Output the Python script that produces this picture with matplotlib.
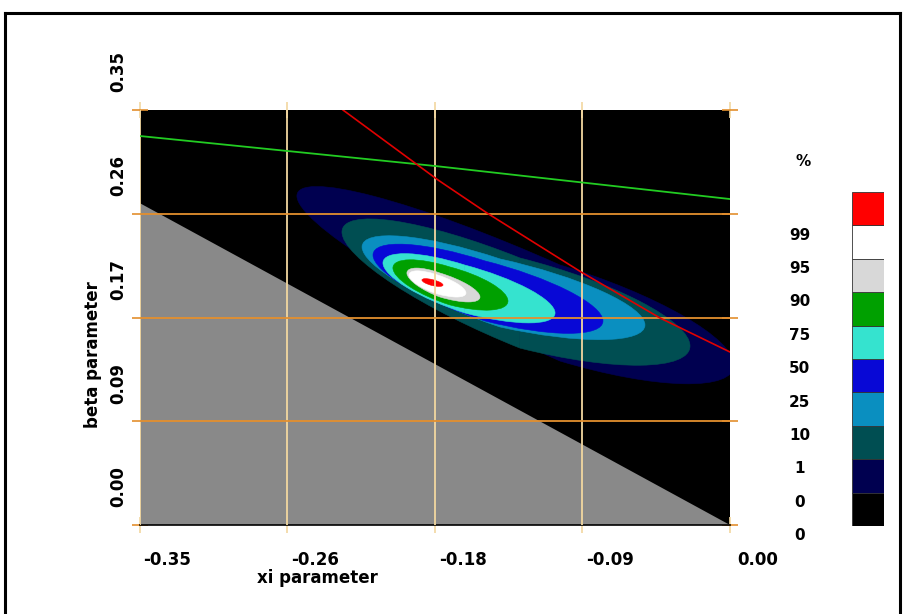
import numpy as np
import matplotlib

matplotlib.use("Agg")
import matplotlib.pyplot as plt
from matplotlib.lines import Line2D
from matplotlib.patches import PathPatch, Polygon
from matplotlib.path import Path
from matplotlib.transforms import Affine2D, ScaledTranslation

# axis ticks (labels are rounded the way the original software prints them)
XI_TICKS = [-0.35, -0.2625, -0.175, -0.0875, 0.0]
XI_LABELS = ["-0.35", "-0.26", "-0.18", "-0.09", "0.00"]
BETA_TICKS = [0.0, 0.0875, 0.175, 0.2625, 0.35]
BETA_LABELS = ["0.00", "0.09", "0.17", "0.26", "0.35"]

# confidence regions, outer -> inner:
# leftmost point, rightmost point, centre of the widest vertical chord and its half height
REGION_LEFT_XI = [-0.2567, -0.2300, -0.2181, -0.2116, -0.2057, -0.1998, -0.1915, -0.1903, -0.1826]
REGION_LEFT_BETA = [0.2775, 0.2471, 0.2345, 0.2277, 0.2210, 0.2168, 0.2125, 0.2109, 0.2066]
REGION_RIGHT_XI = [0.0024, -0.0237, -0.0504, -0.0753, -0.1037, -0.1316, -0.1482, -0.1565, -0.1701]
REGION_RIGHT_BETA = [0.1349, 0.1510, 0.1687, 0.1721, 0.1788, 0.1889, 0.1923, 0.1957, 0.2024]
REGION_MID_XI = [-0.1008, -0.1245, -0.1363, -0.1452, -0.1571, -0.1660, -0.1719, -0.1743, -0.1766]
REGION_MID_BETA = [0.1788, 0.1872, 0.1957, 0.1974, 0.1990, 0.2016, 0.2024, 0.2033, 0.2045]
REGION_HALF_HEIGHT = [0.0405, 0.0380, 0.0287, 0.0253, 0.0202, 0.0160, 0.0101, 0.0080, 0.0025]
REGION_COLORS = ["#000050", "#004e52", "#0a8fc0", "#0808d6", "#35e3cf",
                 "#00a000", "#d8d8d8", "#ffffff", "#ff0000"]

# colour key, bottom -> top; each label sits at the lower edge of its box
KEY_COLORS = ["#000000", "#000050", "#004e52", "#0a8fc0", "#0808d6",
              "#35e3cf", "#00a000", "#d8d8d8", "#ffffff", "#ff0000"]
KEY_LABELS = ["0", "0", "1", "10", "25", "50", "75", "90", "95", "99"]

# region where the model is not defined
INVALID_XI = [-0.35, 0.0, -0.35]
INVALID_BETA = [0.2716, 0.0, 0.0]

# green and red boundary curves
GREEN_XI = [-0.35, -0.175, 0.0]
GREEN_BETA = [0.3281, 0.3028, 0.2749]
RED_XI = [-0.2294, -0.1731, -0.1440, -0.0883, -0.0415, 0.0]
RED_BETA = [0.35, 0.2910, 0.2631, 0.2134, 0.1746, 0.1459]

PALE = "#f2d7a0"
ORANGE = "#e38f2e"
FONT = "DejaVu Sans"


def add_region(ax, left, right, mid, half_h, color):
    # two half ellipses sharing the vertical chord through `mid`
    lx, ly = left
    rx, ry = right
    cx, cy = mid
    halves = [
        (Path.arc(90, 270), [[cx - lx, 0.0, cx], [cy - ly, half_h, cy], [0.0, 0.0, 1.0]]),
        (Path.arc(-90, 90), [[rx - cx, 0.0, cx], [ry - cy, half_h, cy], [0.0, 0.0, 1.0]]),
    ]
    for path, mat in halves:
        tr = Affine2D(np.array(mat)) + ax.transData
        ax.add_patch(PathPatch(path, transform=tr, facecolor=color, edgecolor=color,
                               linewidth=0.4, zorder=1))


def main() -> None:
    W, H = 904, 614
    fig = plt.figure(figsize=(W / 100, H / 100), dpi=100)
    fig.patch.set_facecolor("white")

    ax = fig.add_axes([139.5 / W, 1 - 525 / H, 590.5 / W, 415 / H])
    ax.set_facecolor("black")

    for i, col in enumerate(REGION_COLORS):
        add_region(ax, (REGION_LEFT_XI[i], REGION_LEFT_BETA[i]),
                   (REGION_RIGHT_XI[i], REGION_RIGHT_BETA[i]),
                   (REGION_MID_XI[i], REGION_MID_BETA[i]), REGION_HALF_HEIGHT[i], col)

    ax.add_patch(Polygon(np.column_stack([INVALID_XI, INVALID_BETA]), closed=True,
                         facecolor="#898989", edgecolor="none", zorder=2))

    # grid
    for t in XI_TICKS[:-1]:
        ax.axvline(t, color=PALE, lw=1.3, zorder=3)
    for t in BETA_TICKS[1:-1]:
        ax.axhline(t, color=ORANGE, lw=1.3, zorder=3)

    ax.plot(GREEN_XI, GREEN_BETA, color="#22cc22", lw=1.3, zorder=4)
    ax.plot(RED_XI, RED_BETA, color="#e00000", lw=1.2, zorder=4)

    ax.set_xlim(XI_TICKS[0], XI_TICKS[-1])
    ax.set_ylim(BETA_TICKS[0], BETA_TICKS[-1])

    for side in ["top", "right", "left"]:
        ax.spines[side].set_visible(False)
    ax.spines["bottom"].set_color("black")
    ax.spines["bottom"].set_linewidth(1.2)

    ax.set_xticks(XI_TICKS, XI_LABELS)
    ax.set_yticks(BETA_TICKS, BETA_LABELS)
    ax.tick_params(axis="x", which="both", bottom=True, top=True, direction="inout",
                   length=12, width=1.2, color=PALE, pad=13)
    ax.tick_params(axis="y", which="both", left=True, right=True, direction="inout",
                   length=12, width=1.2, color=ORANGE, pad=3)
    for lab in ax.get_xticklabels():
        lab.set_fontfamily(FONT)
        lab.set_fontweight("bold")
        lab.set_fontsize(12)
        lab.set_transform(lab.get_transform() + ScaledTranslation(0.28, 0, fig.dpi_scale_trans))
    for lab in ax.get_yticklabels():
        lab.set_fontfamily(FONT)
        lab.set_fontweight("bold")
        lab.set_fontsize(12)
        lab.set_rotation(90)
        lab.set_verticalalignment("center")
        lab.set_transform(lab.get_transform() + ScaledTranslation(0, 0.38, fig.dpi_scale_trans))

    fig.text(317 / W, 1 - 578 / H, "xi parameter", ha="center", va="center",
             fontsize=12, fontweight="bold", family=FONT)
    fig.text(93 / W, 1 - 355 / H, "beta parameter", ha="center", va="center",
             rotation=90, fontsize=12, fontweight="bold", family=FONT)

    # colour key
    kax = fig.add_axes([852.5 / W, 1 - 526 / H, 31 / W, 334 / H])
    n = len(KEY_COLORS)
    kax.bar(np.zeros(n), np.ones(n), bottom=np.arange(n), width=1.0, color=KEY_COLORS,
            edgecolor="#333333", linewidth=0.6, align="edge")
    kax.set_xlim(0, 1)
    kax.set_ylim(0, n)
    kax.set_axis_off()
    for i, lab in enumerate(KEY_LABELS):
        kax.annotate(lab, xy=(0, i), xycoords=("axes fraction", "data"),
                     xytext=(-38, -7), textcoords="offset points", ha="center", va="center",
                     fontsize=11, fontweight="bold", family=FONT)
    fig.text(803 / W, 1 - 161 / H, "%", ha="center", va="center",
             fontsize=11, fontweight="bold", family=FONT)

    # frame around the picture
    for xs, ys in [([5, 5], [13, H]), ([5, 900], [13, 13]), ([900, 900], [13, H])]:
        fig.add_artist(Line2D([x / W for x in xs], [1 - y / H for y in ys],
                              color="black", lw=2.2))

    fig.savefig("out.png", dpi=100)
    plt.close(fig)


if __name__ == "__main__":
    main()
